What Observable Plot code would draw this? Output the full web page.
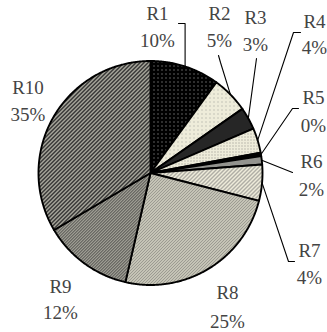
<!DOCTYPE html>
<html><head><meta charset="utf-8">
<script src="https://cdn.jsdelivr.net/npm/d3@7"></script>
<script src="https://cdn.jsdelivr.net/npm/@observablehq/plot@0.6"></script>
<style>html,body{margin:0;padding:0;background:#fff;}
svg text{font-family:"Liberation Serif", serif !important;}</style>
</head><body><div id="chart"></div>
<script>
// ---- data ----
const regions = ["R1","R2","R3","R4","R5","R6","R7","R8","R9","R10"];
const shares = [10, 5.3, 3.2, 3.6, 0.5, 1.2, 5.2, 24.6, 12.9, 33.5];
const percentLabels = ["10%","5%","3%","4%","0%","2%","4%","25%","12%","35%"];

// ---- layout ----
const W = 327, H = 332;
const CX = 150, CY = 172.5, R = 112;
const labelX = [157, 219, 255, 314, 313, 311, 309, 227, 60, 27.5];
const nameBase = [19, 19, 23, 27, 103, 167, 256, 298, 292, 93];
const pctBase = [46, 46, 50, 53, 131, 195, 283, 327, 318, 120];
const leaderTail = [
  [[184.6,23],[178,23]],
  [[220,62],[218,55]],
  [[256,58]],
  [[293,32],[300,32]],
  [[292,108],[298,108]],
  [[292,172]],
  [[288,261],[294,261]],
  [], [], []
];

const cream = "#eeecda";
const patterns = [
  {n:4, f:(x,y)=> (x===1&&y===1) ? "#b8b8b8" : "#000"},
  {n:4, f:(x,y)=> (x===1&&y===1) ? "#9a9a94" : cream},
  {n:2, f:(x,y)=> (x===0&&y===0) ? "#8a8a8a" : "#050505"},
  {n:3, f:(x,y)=> (x===1&&y===1) ? "#8c8c86" : cream},
  {n:2, f:()=> "#000"},
  {n:2, f:(x,y)=> ((x+y)%2===0) ? "#505050" : "#d6d6cc"},
  {n:4, f:(x,y)=> ((x+y)%4===0) ? "#707070" : cream},
  {n:3, f:(x,y)=> ((x+y)%3===0) ? "#4a4a4a" : cream},
  {n:3, f:(x,y)=> {const k=(x+y)%3; return k===0?"#1e1e1e":k===1?"#7a7a76":cream;}},
  {n:4, f:(x,y)=> {const k=(x+y)%4; return k<2?"#222":k===2?"#8a8a84":cream;}}
];

// ---- geometry from data ----
const arcs = d3.pie().sort(null).value(d => d)(shares);
const pt = (a, r) => [CX + r*Math.sin(a), CY - r*Math.cos(a)];
const slicePts = [];
arcs.forEach((a, i) => {
  const name = regions[i];
  slicePts.push({name, x: CX, y: CY});
  const steps = Math.max(2, Math.ceil((a.endAngle - a.startAngle) / (Math.PI/360)));
  for (let s = 0; s <= steps; s++) {
    const ang = a.startAngle + (a.endAngle - a.startAngle) * s / steps;
    const [x, y] = pt(ang, R);
    slicePts.push({name, x, y});
  }
  slicePts.push({name, x: CX, y: CY});
});

const leaderPts = [];
arcs.forEach((a, i) => {
  if (!leaderTail[i].length) return;
  const mid = (a.startAngle + a.endAngle) / 2;
  const [x0, y0] = pt(mid, R);
  leaderPts.push({name: regions[i], x: x0, y: y0});
  leaderTail[i].forEach(([x, y]) => leaderPts.push({name: regions[i], x, y}));
});

const labels = regions.map((name, i) => ({name, pct: percentLabels[i], x: labelX[i], yn: nameBase[i], yp: pctBase[i]}));

const font = "Liberation Serif";
const chart = Plot.plot({
  width: W, height: H,
  margin: 0,
  style: {fontFamily: font, background: "#fff"},
  x: {domain: [0, W], range: [0, W], axis: null},
  y: {domain: [0, H], range: [0, H], axis: null},
  color: {type: "ordinal", domain: regions, range: regions.map((_, i) => `url(#pat${i})`)},
  marks: [
    Plot.line(slicePts, {x: "x", y: "y", z: "name", fill: "name", stroke: "#000", strokeWidth: 1.9, strokeLinejoin: "round"}),
    Plot.line(leaderPts, {x: "x", y: "y", z: "name", stroke: "#000", strokeWidth: 1.1}),
    Plot.text(labels, {x: "x", y: "yn", text: "name", lineAnchor: "bottom", fontSize: 19, fontFamily: font, fill: "#444"}),
    Plot.text(labels, {x: "x", y: "yp", text: "pct", lineAnchor: "bottom", fontSize: 19, fontFamily: font, fill: "#444"})
  ]
});

const defs = d3.select(chart).insert("defs", ":first-child");
patterns.forEach((p, i) => {
  const pat = defs.append("pattern").attr("id", `pat${i}`).attr("patternUnits", "userSpaceOnUse")
    .attr("width", p.n).attr("height", p.n);
  for (let x = 0; x < p.n; x++) for (let y = 0; y < p.n; y++) {
    pat.append("rect").attr("x", x).attr("y", y).attr("width", 1).attr("height", 1)
      .attr("fill", p.f(x, y)).attr("shape-rendering", "crispEdges");
  }
});

document.getElementById("chart").appendChild(chart);
</script>
</body></html>
